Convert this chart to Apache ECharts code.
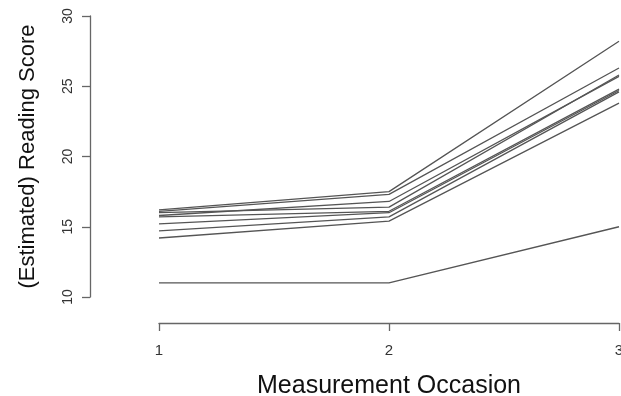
<!DOCTYPE html>
<html>
<head>
<meta charset="utf-8">
<script src="https://cdn.jsdelivr.net/npm/echarts@6/dist/echarts.min.js"></script>
<style>html,body{margin:0;padding:0;background:#fff}#c{width:621px;height:396px}</style>
</head>
<body>
<div id="c"></div>
<script>
var occasions = [1, 2, 3];
var yTicks = [10, 15, 20, 25, 30];
var s1 = [16.2, 17.5, 28.2];
var s2 = [16.1, 17.3, 26.3];
var s3 = [15.8, 16.8, 25.7];
var s4 = [16.0, 16.4, 25.8];
var s5 = [15.7, 16.1, 24.8];
var s6 = [15.2, 16.0, 24.7];
var s7 = [14.7, 15.7, 24.6];
var s8 = [14.2, 15.4, 23.8];
var s9 = [11.0, 11.0, 15.0];
var students = [s1, s2, s3, s4, s5, s6, s7, s8, s9];

var font = 'Liberation Sans, Arial, sans-serif';
var series = students.map(function (s) {
  return {
    type: 'line',
    symbol: 'none',
    data: occasions.map(function (o, i) { return [o, s[i]]; }),
    lineStyle: { color: '#555', width: 1.3 },
    silent: true
  };
});

var chart = echarts.init(document.getElementById('c'), null, { renderer: 'canvas' });
chart.setOption({
  animation: false,
  backgroundColor: '#fff',
  grid: { left: 159, right: 2, top: 16, bottom: 99, containLabel: false, outerBoundsMode: 'none' },
  xAxis: {
    type: 'value', min: 1, max: 3, interval: 1,
    offset: 26,
    name: 'Measurement Occasion', nameLocation: 'middle', nameGap: 51,
    nameTextStyle: { fontFamily: font, fontSize: 25, color: '#111' },
    axisLine: { show: true, lineStyle: { color: '#666', width: 1.3 } },
    axisTick: { show: true, length: 8, lineStyle: { color: '#666', width: 1.3 } },
    axisLabel: { margin: 20, fontFamily: font, fontSize: 15, color: '#333' },
    splitLine: { show: false }
  },
  yAxis: {
    type: 'value', min: 10, max: 30, interval: 5,
    offset: 69,
    name: '(Estimated) Reading Score', nameLocation: 'middle', nameGap: 51, nameRotate: 90,
    nameTextStyle: { fontFamily: font, fontSize: 22, color: '#111' },
    axisLine: { show: true, lineStyle: { color: '#666', width: 1.3 } },
    axisTick: { show: true, length: 8, lineStyle: { color: '#666', width: 1.3 } },
    axisLabel: {
      rotate: 90, margin: 15, fontFamily: font, fontSize: 14, color: '#333',
      formatter: function (v) { return yTicks.indexOf(v) >= 0 ? String(v) : ''; }
    },
    splitLine: { show: false }
  },
  series: series
});
</script>
</body>
</html>
